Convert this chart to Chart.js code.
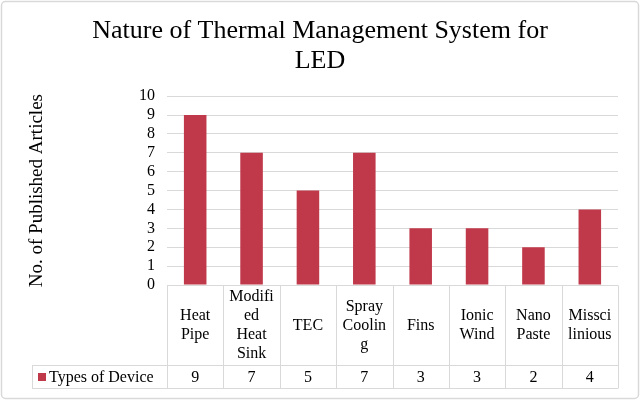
<!DOCTYPE html>
<html>
<head>
<meta charset="utf-8">
<script src="https://cdn.jsdelivr.net/npm/chart.js@4/dist/chart.umd.min.js"></script>
<style>
  html, body { margin: 0; padding: 0; background: #fff; }
  #wrap { width: 640px; height: 402px; }
</style>
</head>
<body>
<div id="wrap"><canvas id="ledChart" width="640" height="402"></canvas></div>
<script>
(function() {
    // categories are kept with the line breaks Excel wrapped them with
    const categories = [
        ["Heat", "Pipe"],
        ["Modifi", "ed", "Heat", "Sink"],
        ["TEC"],
        ["Spray", "Coolin", "g"],
        ["Fins"],
        ["Ionic", "Wind"],
        ["Nano", "Paste"],
        ["Missci", "linious"]
    ];
    const articleCounts = [9, 7, 5, 7, 3, 3, 2, 4];
    const seriesName = "Types of Device";
    const yMax = 10;
    const yStep = 1;

    const serif = '"Liberation Serif", "Times New Roman", serif';
    const barColor = '#C0394A';
    const lineColor = '#d9d9d9';

    const canvas = document.getElementById("ledChart");
    if (!canvas) {
        console.error("chart canvas not found");
        return;
    }
    const ctx = canvas.getContext("2d");

    // outer frame like the Excel chart area
    const framePlugin = {
        id: 'frame',
        beforeDraw(chart) {
            const c = chart.ctx;
            c.save();
            c.fillStyle = '#fff';
            c.fillRect(0, 0, chart.width, chart.height);
            c.strokeStyle = lineColor;
            c.lineWidth = 1.5;
            c.beginPath();
            c.roundRect(1.5, 1.5, chart.width - 3, chart.height - 5, 4);
            c.stroke();
            c.restore();
        }
    };

    // data table under the plot, columns taken from the x scale
    const dataTablePlugin = {
        id: 'dataTable',
        afterDraw(chart) {
            const c = chart.ctx;
            const xs = chart.scales.x;
            const area = chart.chartArea;
            const n = categories.length;
            const step = (area.right - area.left) / n;
            const top = area.bottom + 0.5;
            const mid = top + 80;
            const bottom = mid + 23;
            const legendLeft = 32;

            c.save();
            c.strokeStyle = lineColor;
            c.lineWidth = 1;
            c.beginPath();
            c.moveTo(area.left, top); c.lineTo(area.right, top);
            c.moveTo(legendLeft, mid); c.lineTo(area.right, mid);
            c.moveTo(legendLeft, bottom); c.lineTo(area.right, bottom);
            for (let i = 0; i <= n; i++) {
                const x = Math.round(area.left + i * step) + 0.5;
                c.moveTo(x, top); c.lineTo(x, bottom);
            }
            c.moveTo(legendLeft + 0.5, mid); c.lineTo(legendLeft + 0.5, bottom);
            c.stroke();

            c.fillStyle = '#000';
            c.font = '16px ' + serif;
            c.textAlign = 'center';
            c.textBaseline = 'middle';
            const lh = 19;
            const headCenter = (top + mid) / 2;
            categories.forEach((lines, i) => {
                const x = xs.getPixelForValue(i);
                const y0 = headCenter - (lines.length - 1) * lh / 2;
                lines.forEach((t, k) => c.fillText(t, x, y0 + k * lh));
            });

            const rowCenter = (mid + bottom) / 2;
            articleCounts.forEach((v, i) => {
                c.fillText(String(v), xs.getPixelForValue(i), rowCenter + 1);
            });

            // legend key + series name
            c.fillStyle = barColor;
            c.fillRect(legendLeft + 6, rowCenter - 4, 8, 8);
            c.fillStyle = '#000';
            c.textAlign = 'left';
            c.fillText(seriesName, legendLeft + 17, rowCenter + 1);
            c.restore();
        }
    };

    new Chart(ctx, {
        type: 'bar',
        data: {
            labels: categories,
            datasets: [{
                label: seriesName,
                data: articleCounts,
                backgroundColor: barColor,
                borderWidth: 0,
                barPercentage: 0.4,
                categoryPercentage: 1.0
            }]
        },
        options: {
            responsive: false,
            animation: false,
            layout: { padding: { left: 22, right: 22, top: 0, bottom: 117 } },
            plugins: {
                legend: { display: false },
                tooltip: { enabled: false },
                title: {
                    display: true,
                    text: ['Nature of Thermal Management System for', 'LED'],
                    color: '#000',
                    font: { family: serif, size: 26, weight: 'normal', lineHeight: 1.12 },
                    padding: { top: 17, bottom: 21 }
                }
            },
            scales: {
                x: { display: false },
                y: {
                    min: 0,
                    max: yMax,
                    ticks: {
                        stepSize: yStep,
                        autoSkip: false,
                        color: '#000',
                        padding: 12,
                        font: { family: serif, size: 16 }
                    },
                    grid: { color: lineColor, drawTicks: false },
                    border: { display: false },
                    title: {
                        display: true,
                        text: 'No. of Published Articles',
                        color: '#000',
                        font: { family: serif, size: 19 },
                        padding: { top: 4, bottom: 0 }
                    },
                    afterFit(scale) { scale.width = 145; }
                }
            }
        },
        plugins: [framePlugin, dataTablePlugin]
    });
})();
</script>
</body>
</html>
